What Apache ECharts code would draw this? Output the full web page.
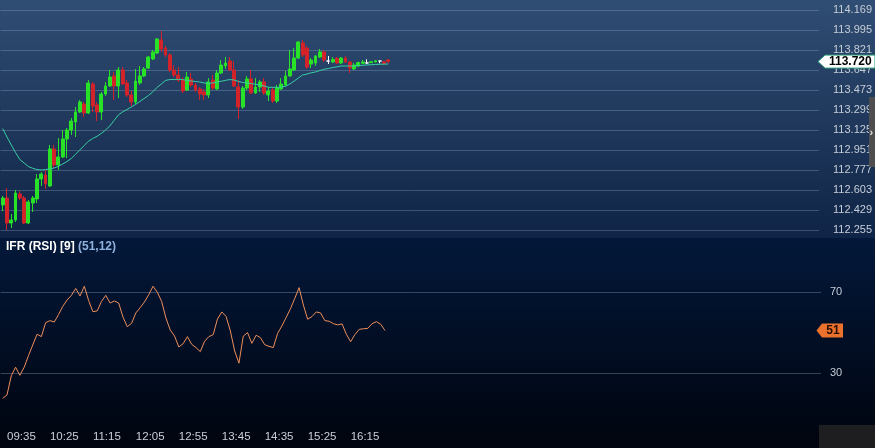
<!DOCTYPE html>
<html><head><meta charset="utf-8">
<script src="https://cdn.jsdelivr.net/npm/echarts@6/dist/echarts.min.js"></script>
<style>html,body{margin:0;padding:0;background:#000;}#c{width:875px;height:448px;}</style>
</head><body><div id="c"></div>
<script>
// ---- data ----
const firstTime = '09:30';
const slotMinutes = 5;
const slotCount = 191;
const xTickLabels = ['09:35','10:25','11:15','12:05','12:55','13:45','14:35','15:25','16:15'];
const priceTicks = [112.255,112.429,112.603,112.777,112.951,113.125,113.299,113.473,113.647,113.821,113.995,114.169];
const rsiTicks = [30,70];

const opens = [112.473,112.533,112.316,112.342,112.568,112.533,112.316,112.490,112.525,112.699,
112.734,112.638,112.960,112.821,112.890,113.047,113.125,113.195,113.282,113.351,
113.273,113.525,113.343,113.282,113.438,113.508,113.595,113.508,113.647,113.534,
113.430,113.369,113.534,113.595,113.664,113.743,113.795,113.908,113.838,113.778,
113.647,113.604,113.560,113.473,113.569,113.517,113.482,113.456,113.430,113.560,
113.482,113.621,113.682,113.725,113.647,113.499,113.325,113.490,113.569,113.447,
113.499,113.543,113.430,113.473,113.377,113.482,113.517,113.595,113.647,113.751,
113.882,113.838,113.699,113.708,113.760,113.804,113.725,113.717,113.747,113.708,
113.751,113.717,113.656,113.682,113.705,113.708,113.711,113.717,113.725,113.719,113.735];
const closes = [112.533,112.316,112.342,112.577,112.533,112.316,112.499,112.533,112.699,112.742,
112.655,112.960,112.821,112.890,113.047,113.125,113.203,113.282,113.369,113.273,
113.534,113.334,113.282,113.438,113.508,113.586,113.508,113.647,113.525,113.430,
113.369,113.551,113.595,113.656,113.760,113.804,113.917,113.830,113.778,113.647,
113.604,113.560,113.464,113.586,113.517,113.473,113.438,113.430,113.543,113.490,
113.621,113.690,113.708,113.647,113.508,113.325,113.490,113.569,113.447,113.499,
113.543,113.447,113.464,113.377,113.490,113.525,113.595,113.656,113.751,113.891,
113.778,113.673,113.734,113.769,113.804,113.734,113.725,113.738,113.708,113.751,
113.717,113.664,113.690,113.712,113.717,113.708,113.719,113.727,113.725,113.704,113.720];
const lows = [112.420,112.255,112.272,112.325,112.516,112.307,112.307,112.412,112.490,112.638,
112.612,112.629,112.794,112.777,112.881,112.881,113.082,113.064,113.273,113.238,
113.264,113.282,113.203,113.212,113.421,113.499,113.386,113.403,113.517,113.412,
113.334,113.351,113.517,113.586,113.656,113.734,113.786,113.804,113.760,113.630,
113.586,113.543,113.447,113.464,113.499,113.456,113.386,113.386,113.403,113.473,
113.473,113.612,113.656,113.638,113.499,113.221,113.308,113.473,113.438,113.438,
113.456,113.430,113.377,113.360,113.360,113.473,113.508,113.586,113.638,113.743,
113.760,113.656,113.664,113.682,113.751,113.717,113.699,113.708,113.699,113.699,
113.708,113.621,113.647,113.673,113.702,113.705,113.708,113.714,113.705,113.695,113.705];
const highs = [112.551,112.620,112.394,112.603,112.594,112.551,112.516,112.551,112.742,112.759,
112.777,112.995,112.995,113.055,113.125,113.142,113.229,113.325,113.386,113.369,
113.560,113.543,113.369,113.456,113.543,113.647,113.630,113.673,113.673,113.560,
113.464,113.656,113.682,113.673,113.769,113.821,113.925,113.986,113.856,113.795,
113.690,113.673,113.586,113.630,113.621,113.534,113.499,113.482,113.577,113.604,
113.647,113.734,113.760,113.760,113.725,113.560,113.508,113.595,113.647,113.577,
113.560,113.577,113.499,113.499,113.517,113.577,113.638,113.821,113.838,113.899,
113.908,113.856,113.751,113.778,113.830,113.821,113.769,113.760,113.760,113.760,
113.769,113.725,113.708,113.719,113.734,113.740,113.725,113.734,113.728,113.725,113.740];
const movingAvg = [113.137,113.064,112.995,112.929,112.868,112.838,112.807,112.792,112.781,112.777,
112.781,112.787,112.794,112.809,112.829,112.851,112.877,112.914,112.951,112.989,
113.027,113.051,113.070,113.095,113.125,113.160,113.208,113.256,113.283,113.303,
113.325,113.347,113.373,113.399,113.425,113.456,113.495,113.525,113.556,113.564,
113.565,113.566,113.563,113.557,113.551,113.547,113.543,113.534,113.531,113.534,
113.543,113.549,113.557,113.564,113.560,113.547,113.538,113.534,113.529,113.523,
113.517,113.508,113.497,113.496,113.496,113.499,113.505,113.525,113.551,113.577,
113.604,113.612,113.623,113.630,113.642,113.653,113.660,113.668,113.675,113.682,
113.682,113.682,113.682,113.685,113.688,113.691,113.693,113.695,113.697,113.698,113.699];
const rsi = [17.6,19.3,28.8,33.0,29.0,33.0,38.7,44.0,49.3,48.1,
55.0,56.0,55.3,59.0,63.1,66.2,68.5,71.9,68.2,73.0,
66.0,60.4,60.8,65.5,68.5,64.7,65.7,64.7,57.8,53.0,
54.7,59.8,62.4,65.2,68.8,73.0,70.0,65.5,57.3,51.4,
48.4,43.0,44.6,48.1,44.3,42.7,40.7,45.8,48.1,49.1,
56.8,60.3,58.1,50.9,41.0,35.0,48.3,50.1,44.8,48.8,
47.6,44.1,43.3,42.7,49.7,53.4,57.6,61.9,67.0,72.3,
63.7,56.7,58.0,60.3,59.8,56.0,55.7,54.5,53.9,54.4,
49.3,45.6,49.1,51.7,52.0,52.2,54.5,55.5,54.2,51.12];

// ---- build ----
function buildTimes(){
  const [h,m] = firstTime.split(':').map(Number);
  const out = [];
  for (let i=0;i<slotCount;i++){
    const t = (h*60+m+i*slotMinutes) % (24*60);
    out.push(String(Math.floor(t/60)).padStart(2,'0')+':'+String(t%60).padStart(2,'0'));
  }
  return out;
}
const times = buildTimes();
const candles = opens.map((o,i)=>[o, closes[i], lows[i], highs[i]]);
const FONT = '"Liberation Sans", Arial, sans-serif';

const chart = echarts.init(document.getElementById('c'), null, {renderer:'canvas'});
const option = {
  animation: false,
  backgroundColor: '#000510',
  grid: [
    {left: 0.55, right: 54, top: 10, height: 220},
    {left: 0.55, right: 54, top: 231.55, height: 192.35}
  ],
  xAxis: [
    {type:'category', gridIndex:0, data: times, boundaryGap:true, show:false},
    {type:'category', gridIndex:1, data: times, boundaryGap:true,
     axisLine:{show:false}, axisTick:{show:false}, splitLine:{show:false},
     axisLabel:{interval:(i,v)=>xTickLabels.indexOf(v)>=0, align:'left', color:'#c9d0da', fontSize:11.5, fontFamily:FONT, margin:7}}
  ],
  yAxis: [
    {type:'value', gridIndex:0, position:'right', min:112.255, max:114.169, scale:true,
     axisLine:{show:false}, axisTick:{show:false, customValues: priceTicks},
     axisLabel:{customValues: priceTicks, formatter: v => Number(v).toFixed(3), color:'#c6cdd7', fontSize:11, fontFamily:FONT, margin:14},
     splitLine:{show:true, lineStyle:{color:'rgba(150,175,210,0.32)', width:1}}},
    {type:'value', gridIndex:1, position:'right', min:5, max:100,
     axisLine:{show:false}, axisTick:{show:false, customValues: rsiTicks},
     axisLabel:{customValues: rsiTicks, color:'#c6cdd7', fontSize:11, fontFamily:FONT, margin:9},
     splitLine:{show:true, lineStyle:{color:'rgba(120,135,165,0.45)', width:1}}}
  ],
  series: [
    {type:'candlestick', xAxisIndex:0, yAxisIndex:0, data:candles, barWidth:3.4,
     itemStyle:{color:'#27e227', color0:'#d2222a', borderColor:'#27e227', borderColor0:'#d2222a', borderColorDoji:'#ffffff', borderWidth:1}},
    {type:'line', xAxisIndex:0, yAxisIndex:0, data:movingAvg, symbol:'none', silent:true,
     lineStyle:{color:'#38cfa4', width:1}},
    {type:'line', xAxisIndex:1, yAxisIndex:1, data:rsi, symbol:'none', silent:true,
     lineStyle:{color:'#ee8e5a', width:1}}
  ]
};
chart.setOption(option);

const lastClose = closes[closes.length-1];
const lastRsi = rsi[rsi.length-1];
const yP = chart.convertToPixel({yAxisIndex:0}, lastClose);
const yR = chart.convertToPixel({yAxisIndex:1}, lastRsi);

chart.setOption({graphic: [
  {type:'rect', id:'bgTop', z:-10, silent:true, shape:{x:0,y:0,width:875,height:238},
   style:{fill:new echarts.graphic.LinearGradient(0,0,0,1,[{offset:0,color:'#304d73'},{offset:1,color:'#0f2446'}])}},
  {type:'rect', id:'bgBot', z:-10, silent:true, shape:{x:0,y:238,width:875,height:210},
   style:{fill:new echarts.graphic.LinearGradient(0,0,0,1,[{offset:0,color:'#03183a'},{offset:1,color:'#00040e'}])}},
  {type:'rect', id:'scroll', z:50, silent:true, shape:{x:869,y:97,width:6,height:70}, style:{fill:'#4e4e50'}},
  {type:'text', id:'scrollArrow', z:51, silent:true, x:869.5, y:133, style:{text:'›', fill:'#e0e0e0', font:'bold 11px '+FONT, verticalAlign:'middle'}},
  {type:'rect', id:'corner', z:50, silent:true, shape:{x:819,y:425,width:56,height:23}, style:{fill:'#1e1e20'}},
  {type:'polygon', id:'priceTag', z:60, silent:true,
   shape:{points:[[818,yP],[825,yP-6.5],[875,yP-6.5],[875,yP+6.5],[825,yP+6.5]]},
   style:{fill:'#ffffff', stroke:'#2e9c78', lineWidth:1}},
  {type:'text', id:'priceTagText', z:61, silent:true, x:829, y:yP+0.5,
   style:{text:lastClose.toFixed(3), fill:'#000000', font:'bold 12px '+FONT, verticalAlign:'middle'}},
  {type:'polygon', id:'rsiTag', z:60, silent:true,
   shape:{points:[[816.5,yR],[822,yR-7],[843,yR-7],[843,yR+7],[822,yR+7]]},
   style:{fill:'#ea722c'}},
  {type:'text', id:'rsiTagText', z:61, silent:true, x:833, y:yR+0.5,
   style:{text:String(Math.round(lastRsi)), fill:'#2a0e00', font:'bold 12px '+FONT, align:'center', verticalAlign:'middle'}},
  {type:'text', id:'rsiTitle', z:61, silent:true, x:6, y:247,
   style:{text:'{a|IFR (RSI) [9]} {b|(' + lastRsi.toFixed(2).replace('.', ',') + ')}', verticalAlign:'middle',
     rich:{a:{fill:'#ffffff', font:'bold 12px '+FONT}, b:{fill:'#8fb2de', font:'bold 12px '+FONT}}}}
]});
</script>
</body></html>
